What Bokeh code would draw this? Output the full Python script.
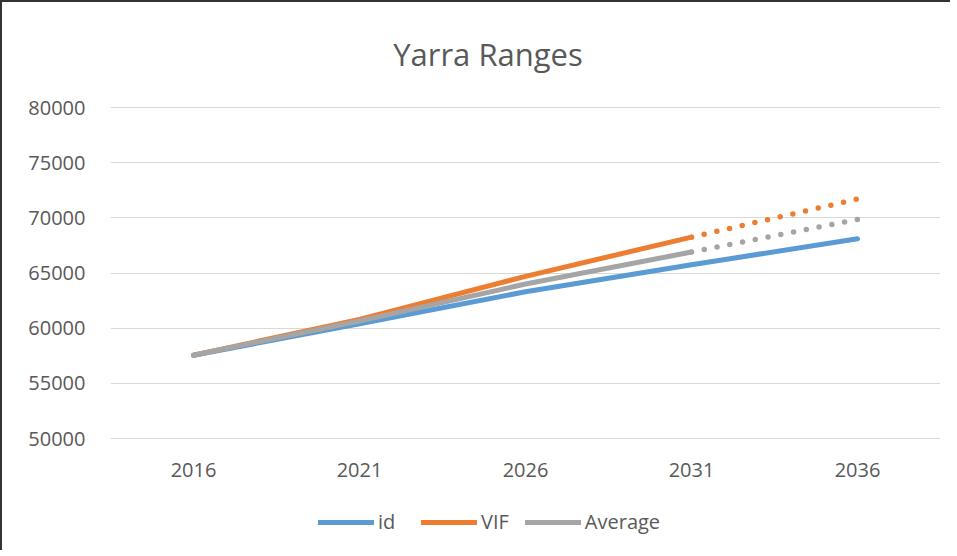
from bokeh.plotting import figure
from bokeh.models import FactorRange, Range1d, Legend, LegendItem, FixedTicker
from bokeh.core.properties import value
from bokeh.embed import file_html
from bokeh.resources import INLINE

title_text = "Yarra Ranges"
years = ["2016", "2021", "2026", "2031", "2036"]
y_ticks = [50000, 55000, 60000, 65000, 70000, 75000, 80000]
id_vals = [57550, 60400, 63300, 65750, 68100]
vif_vals = [57550, 60800, 64700, 68250, 71700]
avg_vals = [57550, 60650, 64000, 66900, 69850]
solid_end = 4  # solid segments through 2031, dotted after for VIF and Average

BLUE, ORANGE, GRAY = "#5b9bd5", "#ed7d31", "#a5a5a5"
TXT = "#595959"
FONT = "Open Sans"

# layout (pixels inside the canvas): frame spans whole canvas height
W, H = 950, 550
GRID_TOP, GRID_BOTTOM = 105, 436      # pixel rows of 80000 / 50000
y_lo, y_hi = y_ticks[0], y_ticks[-1]
per_px = (y_hi - y_lo) / (GRID_BOTTOM - GRID_TOP)
y_end = y_hi + GRID_TOP * per_px
y_start = y_lo - (H - GRID_BOTTOM) * per_px

p = figure(width=W, height=H, output_backend="svg", toolbar_location=None,
           x_range=FactorRange(factors=years), y_range=Range1d(y_start, y_end),
           x_axis_location=None)
p.min_border_left = 108
p.min_border_right = 12
p.min_border_top = 0
p.min_border_bottom = 0
p.outline_line_color = None
p.styles = {"border-left": "2px solid #333333", "border-top": "2px solid #333333"}

p.xgrid.grid_line_color = None
p.ygrid.grid_line_color = "#d9d9d9"
p.ygrid.grid_line_width = 1
p.yaxis.ticker = FixedTicker(ticks=y_ticks)
p.yaxis.axis_line_color = None
p.yaxis.major_tick_line_color = None
p.yaxis.minor_tick_line_color = None
p.yaxis.major_label_text_font = FONT
p.yaxis.major_label_text_font_size = "20px"
p.yaxis.major_label_text_color = TXT
p.yaxis.major_label_standoff = 19

# category labels under the grid
p.text(x=years, y=[y_lo - 31.5 * per_px] * len(years), text=years,
       text_font=value(FONT), text_font_size="20px", text_color=TXT,
       text_align="center", text_baseline="middle")

# chart title
p.text(x=[years[2]], y=[y_hi + 54 * per_px], text=[title_text], x_offset=-37.5,
       text_font=value(FONT), text_font_size="31px", text_color=TXT,
       text_align="center", text_baseline="middle")

r_id = p.line(years, id_vals, line_color=BLUE, line_width=5, line_cap="round", line_join="round")
r_vif = p.line(years[:solid_end], vif_vals[:solid_end], line_color=ORANGE, line_width=5,
               line_cap="round", line_join="round")
p.line(years[solid_end - 1:], vif_vals[solid_end - 1:], line_color=ORANGE, line_width=5.5,
       line_cap="round", line_dash="0 13", line_dash_offset=-13)
r_avg = p.line(years[:solid_end], avg_vals[:solid_end], line_color=GRAY, line_width=5,
               line_cap="round", line_join="round")
p.line(years[solid_end - 1:], avg_vals[solid_end - 1:], line_color=GRAY, line_width=5.5,
       line_cap="round", line_dash="0 13", line_dash_offset=-13)

legend = Legend(items=[LegendItem(label="id", renderers=[r_id]),
                       LegendItem(label="VIF", renderers=[r_vif]),
                       LegendItem(label="Average", renderers=[r_avg])],
                orientation="horizontal", location=(208, 17))
legend.border_line_color = None
legend.background_fill_alpha = 0
legend.padding = 0
legend.margin = 0
legend.spacing = 16
legend.glyph_width = 56
legend.glyph_height = 20
legend.label_height = 20
legend.label_width = 27
legend.label_standoff = 4
legend.label_text_font = FONT
legend.label_text_font_size = "20px"
legend.label_text_color = TXT
p.add_layout(legend, "center")

open("out.html", "w").write(file_html(p, INLINE))
